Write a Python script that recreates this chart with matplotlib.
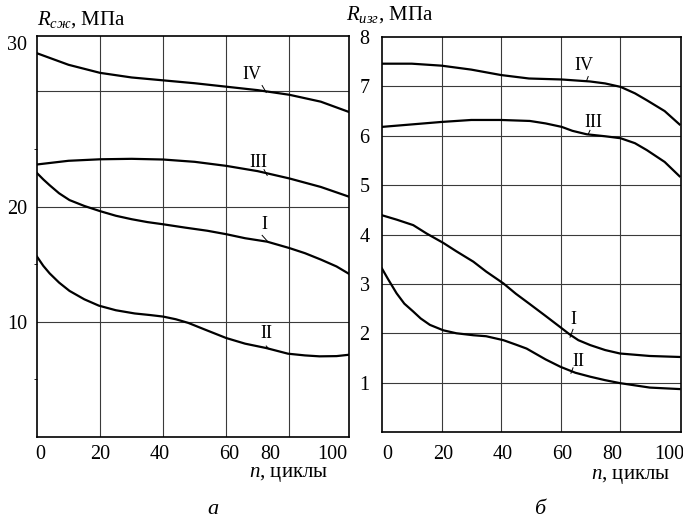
import matplotlib
matplotlib.use('Agg')
from matplotlib import pyplot as plt

plt.rcParams['font.family'] = ['Liberation Serif', 'DejaVu Serif']
plt.rcParams['mathtext.fontset'] = 'custom'
plt.rcParams['mathtext.rm'] = 'Liberation Serif'
plt.rcParams['mathtext.it'] = 'Liberation Serif:italic'
plt.rcParams['lines.solid_joinstyle'] = 'round'

# --- panel a: compressive strength, MPa ---
n_a_IV = [0, 5, 10, 20, 30, 40, 50, 60, 70, 80, 90, 99]
rc_IV = [33.3, 32.8, 32.3, 31.6, 31.2, 30.95, 30.7, 30.4, 30.1, 29.7, 29.1, 28.2]
n_a_III = [0, 10, 20, 30, 40, 50, 60, 70, 80, 90, 99]
rc_III = [23.65, 23.97, 24.1, 24.14, 24.08, 23.88, 23.53, 23.07, 22.44, 21.7, 20.85]
n_a_I = [0, 2, 4, 7, 10.3, 15, 20, 25, 30, 35, 40, 47, 54, 60, 66, 73, 80, 85, 90, 95, 99]
rc_I = [22.9, 22.35, 21.85, 21.15, 20.56, 20.05, 19.6, 19.2, 18.9, 18.65, 18.46, 18.17, 17.9,
        17.6, 17.25, 16.95, 16.4, 15.95, 15.4, 14.8, 14.15]
n_a_II = [0, 2, 4, 7, 10.3, 15, 19.6, 25, 31, 36, 40, 44, 48, 53, 60, 66, 72.7, 79.6, 85, 89.6, 95, 99]
rc_II = [15.65, 14.85, 14.2, 13.4, 12.68, 11.95, 11.4, 11.0, 10.72, 10.58, 10.45, 10.22, 9.9, 9.35,
         8.59, 8.1, 7.72, 7.23, 7.08, 7.0, 7.02, 7.14]

# --- panel b: flexural strength, MPa ---
n_b_IV = [0, 10, 20, 30, 40, 49.4, 60.4, 69.9, 75, 80.2, 85, 89, 95, 100]
rb_IV = [7.46, 7.46, 7.42, 7.34, 7.23, 7.16, 7.14, 7.1, 7.06, 6.99, 6.86, 6.72, 6.5, 6.23]
n_b_III = [0, 10, 20, 30, 40, 49.7, 55, 60.4, 64, 68.8, 75, 80.2, 85, 89, 95, 100]
rb_III = [6.18, 6.23, 6.28, 6.32, 6.32, 6.3, 6.25, 6.18, 6.1, 6.03, 5.99, 5.95, 5.85, 5.71,
          5.47, 5.18]
n_b_I = [0, 5, 10.5, 15, 20.6, 25, 30.7, 35, 40.8, 45, 49.7, 55, 60, 63, 66, 70, 75, 80, 90, 100]
rb_I = [4.39, 4.3, 4.19, 4.02, 3.83, 3.66, 3.45, 3.25, 3.01, 2.8, 2.59, 2.35, 2.12, 1.98,
        1.86, 1.76, 1.66, 1.59, 1.54, 1.52]
n_b_II = [0, 2, 4.9, 7.5, 10.5, 13, 16.1, 20.6, 25, 30.7, 35, 40.8, 45, 48.6, 55, 60, 65, 70,
          75, 80, 90, 100]
rb_II = [3.31, 3.1, 2.81, 2.6, 2.44, 2.3, 2.17, 2.06, 2.0, 1.96, 1.94, 1.86, 1.77, 1.69, 1.47,
         1.32, 1.2, 1.12, 1.05, 0.99, 0.9, 0.87]

xtick_labels = ['0', '20', '40', '60', '80', '100']

fig = plt.figure(figsize=(6.83, 5.20), dpi=100)
ax1 = fig.add_axes([0.0542, 0.1596, 0.457, 0.7712])
ax2 = fig.add_axes([0.5593, 0.1692, 0.4378, 0.7596])

lw = 1.6
grid_kw = dict(color='#3a3a3a', lw=0.8, zorder=1)

# panel a
ax1.plot(n_a_IV, rc_IV, color='k', lw=lw, zorder=3)
ax1.plot(n_a_III, rc_III, color='k', lw=lw, zorder=3)
ax1.plot(n_a_I, rc_I, color='k', lw=lw, zorder=3)
ax1.plot(n_a_II, rc_II, color='k', lw=lw, zorder=3)
ax1.set_xlim(0, 99)
ax1.set_ylim(0, 34.8)
for g in [20, 40, 60, 80]:
    ax1.axvline(g, **grid_kw)
for g in [10, 20, 30]:
    ax1.axhline(g, **grid_kw)
ax1.set_xticks([1, 20, 39, 61, 74, 93.5], xtick_labels)
ax1.set_yticks([10, 20, 34.2], ['10', '20', '30'])
ax1.set_yticks([5, 15, 25], minor=True)
ax1.tick_params(axis='x', length=0, pad=6, labelsize=14.5)
ax1.tick_params(axis='y', which='major', length=0, pad=7, labelsize=14.5)
ax1.tick_params(axis='y', which='minor', length=2, width=0.6)

for txt, tx, ty, lx0, ly0, lx1, ly1 in [('IV', 68.3, 31.5, 71.4, 30.5, 72.7, 29.9),
                                       ('III', 70.2, 23.8, 72.0, 23.2, 73.0, 22.7),
                                       ('I', 72.2, 18.4, 71.4, 17.5, 73.2, 16.95),
                                       ('II', 72.7, 8.96, 72.7, 7.9, 73.5, 7.66)]:
    ax1.text(tx, ty, txt, fontsize=13, ha='center', va='center')
    ax1.plot([lx0, lx1], [ly0, ly1], color='k', lw=0.7)

# panel b
ax2.plot(n_b_IV, rb_IV, color='k', lw=lw, zorder=3)
ax2.plot(n_b_III, rb_III, color='k', lw=lw, zorder=3)
ax2.plot(n_b_I, rb_I, color='k', lw=lw, zorder=3)
ax2.plot(n_b_II, rb_II, color='k', lw=lw, zorder=3)
ax2.set_xlim(0, 100.5)
ax2.set_ylim(0, 8)
for g in [20, 40, 60, 80]:
    ax2.axvline(g, **grid_kw)
for g in range(1, 8):
    ax2.axhline(g, **grid_kw)
ax2.set_xticks([1.7, 20.5, 40.7, 60.5, 77.3, 96.5], xtick_labels)
ax2.set_yticks(range(1, 9))
ax2.tick_params(axis='x', length=0, pad=9, labelsize=14.5)
ax2.tick_params(axis='y', length=0, pad=9, labelsize=14.5)

for txt, tx, ty, lx0, ly0, lx1, ly1 in [('IV', 67.7, 7.43, 69.3, 7.2, 68.8, 7.12),
                                       ('III', 71.0, 6.26, 69.9, 6.11, 69.3, 6.03),
                                       ('I', 64.2, 2.27, 64.2, 2.08, 63.2, 1.92),
                                       ('II', 65.9, 1.42, 64.2, 1.3, 63.5, 1.19)]:
    ax2.text(tx, ty, txt, fontsize=13, ha='center', va='center')
    ax2.plot([lx0, lx1], [ly0, ly1], color='k', lw=0.7)

for ax in (ax1, ax2):
    for s in ax.spines.values():
        s.set_linewidth(1.2)

fig.text(37 / 683, 1 - 20 / 520, r'$R_{сж}$, МПа', fontsize=15, ha='left', va='center')
fig.text(346 / 683, 1 - 15 / 520, r'$R_{изг}$, МПа', fontsize=15, ha='left', va='center')
fig.text(328 / 683, 1 - 475 / 520, r'$n$, циклы', fontsize=15, ha='right', va='center')
fig.text(670 / 683, 1 - 477 / 520, r'$n$, циклы', fontsize=15, ha='right', va='center')
fig.text(213 / 683, 1 - 510 / 520, 'а', fontsize=16, style='italic', ha='center', va='center')
fig.text(540 / 683, 1 - 510 / 520, 'б', fontsize=16, style='italic', ha='center', va='center')

fig.savefig('out.png', dpi=100)
